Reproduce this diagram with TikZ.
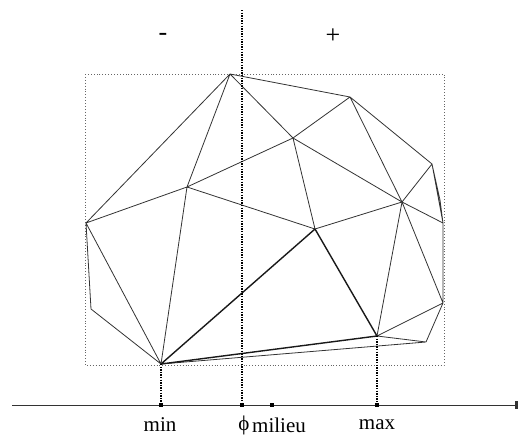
\documentclass[tikz,border=0pt]{standalone}
\usepackage{fontspec}
\setmainfont{Liberation Serif}
\usetikzlibrary{arrows.meta}
\begin{document}
\begin{tikzpicture}[x=1pt,y=-1pt,
  edge/.style={draw=black!80,line width=0.8pt},
  bold/.style={draw=black!90,line width=1.4pt},
  frame/.style={draw=black!60,line width=0.9pt,dotted},
  guide/.style={draw=black,line width=1.5pt,dash pattern=on 1.4pt off 1.2pt},
  tick/.style={fill=black,minimum size=4.5pt,inner sep=0pt,outer sep=0pt},
  lab/.style={font=\fontsize{21}{23}\selectfont,inner sep=0pt},
  sign/.style={font=\fontsize{26}{28}\selectfont,inner sep=0pt}]
\useasboundingbox (0,0) rectangle (519,439);
% vertices
\coordinate (A) at (230,74);
\coordinate (B) at (350,97);
\coordinate (C) at (293,138);
\coordinate (D) at (187,187);
\coordinate (E) at (86,223);
\coordinate (F) at (432,164);
\coordinate (P) at (440,200);
\coordinate (G) at (402,202);
\coordinate (H) at (443,223);
\coordinate (I) at (315,229);
\coordinate (J) at (443,303);
\coordinate (K) at (377,336);
\coordinate (L) at (426,342);
\coordinate (M) at (161,364);
\coordinate (N) at (91,309);
% frame
\coordinate (f1) at (85,74);
\coordinate (f2) at (444,365);
\draw[frame] (f1) rectangle (f2);
% edges
\draw[edge] (A)--(E) (A)--(D) (A)--(B) (A)--(C)
  (E)--(D) (E)--(N) (E)--(M) (N)--(M) (D)--(M) (D)--(C) (D)--(I)
  (C)--(B) (C)--(I) (C)--(G) (B)--(G) (B)--(F)
  (F)--(G) (F)--(H) (F)--(P) (P)--(H) (G)--(H) (G)--(I) (G)--(K) (G)--(J)
  (H)--(J) (J)--(K) (J)--(L) (K)--(L) (M)--(L);
\draw[bold] (M)--(I) (I)--(K) (M)--(K);
% axis
\coordinate (a0) at (12,405);
\coordinate (a1) at (518,405);
\draw[black!80,line width=0.8pt,-{Rectangle[length=3pt,width=8pt]}] (a0)--(a1);
\node[tick] (tmin) at (161,405) {};
\node[tick] (tphi) at (242,405) {};
\node[tick] (tmil) at (272,405) {};
\node[tick] (tmax) at (377,405) {};
\coordinate (top) at (242,10);
\draw[guide] (top)--(tphi);
\draw[guide] (M)--(tmin);
\draw[guide] (K)--(tmax);
% labels
\node[lab] (lmin) at (160,425) {min};
\node[lab] (lphi) at (244,425) {ϕ};
\node[lab,anchor=west] (lmil) at (252,425) {milieu};
\node[lab] (lmax) at (377,425) {max};
\node[sign] (minus) at (163,37) {-};
\node[sign] (plus) at (333,36) {+};
\end{tikzpicture}
\end{document}
